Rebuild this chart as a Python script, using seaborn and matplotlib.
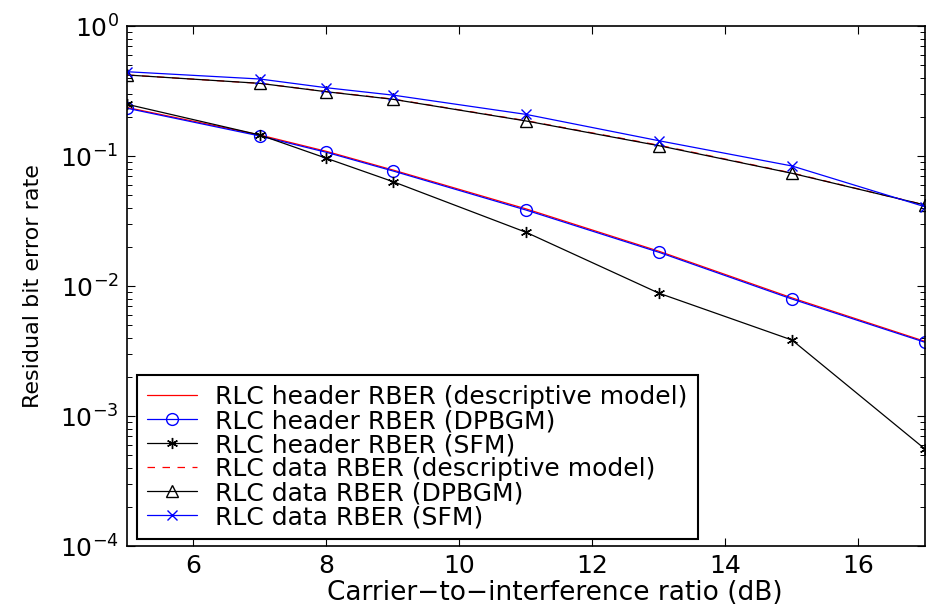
import numpy as np
import pandas as pd
import matplotlib
matplotlib.use("Agg")
import matplotlib.pyplot as plt
import seaborn as sns
from matplotlib.ticker import LogLocator, FixedLocator

# ---- data ----
cir = [5, 7, 8, 9, 11, 13, 15, 17]
hdr_desc = [0.236, 0.145, 0.1085, 0.078, 0.0392, 0.0185, 0.0081, 0.00375]
hdr_dpbgm = [0.233, 0.1425, 0.1067, 0.0767, 0.0384, 0.01816, 0.00794, 0.00369]
hdr_sfm = [0.25, 0.145, 0.096, 0.0635, 0.0259, 0.0088, 0.00384, 0.000557]
data_desc = [0.42, 0.362, 0.313, 0.274, 0.187, 0.121, 0.074, 0.042]
data_dpbgm = [0.42, 0.362, 0.312, 0.273, 0.186, 0.12, 0.0736, 0.042]
data_sfm = [0.445, 0.391, 0.335, 0.294, 0.209, 0.131, 0.0838, 0.0407]

labels = ["RLC header RBER (descriptive model)",
          "RLC header RBER (DPBGM)",
          "RLC header RBER (SFM)",
          "RLC data RBER (descriptive model)",
          "RLC data RBER (DPBGM)",
          "RLC data RBER (SFM)"]
series = [hdr_desc, hdr_dpbgm, hdr_sfm, data_desc, data_dpbgm, data_sfm]

sns.set_theme(style="ticks")
plt.rcParams["font.family"] = ["DejaVu Sans"]
plt.rcParams["mathtext.fontset"] = "dejavusans"
plt.rcParams["mathtext.default"] = "regular"
plt.rcParams["text.color"] = "black"
plt.rcParams["axes.labelcolor"] = "black"

fig = plt.figure(figsize=(9.28, 6.08), dpi=100)
ax = fig.add_axes([127/928, 1-546/608, (925-127)/928, (546-26)/608])

styles = [
    dict(color="red", linestyle="-", marker=None),
    dict(color="blue", linestyle="-", marker="o", markerfacecolor="none", markeredgecolor="blue", markersize=8.5),
    dict(color="black", linestyle="-", marker=(6, 2, 0), markersize=8, markeredgecolor="black"),
    dict(color="red", linestyle=(0, (6, 6)), marker=None),
    dict(color="black", linestyle="-", marker="^", markerfacecolor="none", markeredgecolor="black", markersize=9),
    dict(color="blue", linestyle="-", marker="x", markeredgecolor="blue", markersize=7),
]

handles = []
for lab, vals, st in zip(labels, series, styles):
    df = pd.DataFrame({"x": cir, "y": vals})
    st = dict(st)
    ls = st.pop("linestyle")
    sns.lineplot(data=df, x="x", y="y", ax=ax, linewidth=0.9, estimator=None,
                 sort=False, legend=False, **st)
    ln = ax.lines[-1]
    ln.set_linestyle(ls)
    ln.set_label(lab)
    ln.set_markeredgewidth(1.0)
    handles.append(ln)

ax.set_yscale("log")
ax.set_xlim(5, 17)
ax.set_ylim(1e-4, 1)
ax.xaxis.set_major_locator(FixedLocator([6, 8, 10, 12, 14, 16]))
ax.yaxis.set_major_locator(LogLocator(base=10, numticks=10))
ax.yaxis.set_minor_locator(LogLocator(base=10, subs=np.arange(2, 10), numticks=20))

ax.tick_params(axis="both", which="both", direction="in", top=True, right=True,
               labelsize=18, color="black", labelcolor="black")
ax.tick_params(axis="both", which="major", length=6, width=0.8, pad=6)
ax.tick_params(axis="y", which="minor", length=3.5, width=0.7)
for sp in ax.spines.values():
    sp.set_visible(True)
    sp.set_color("black")
    sp.set_linewidth(1.2)

ax.set_xlabel("Carrier\u2212to\u2212interference ratio (dB)", fontsize=19, labelpad=-1, color="black")
ax.xaxis.set_label_coords((555 - 127) / 798, -0.066)
ax.set_ylabel("Residual bit error rate", fontsize=16, labelpad=12, color="black")

leg = ax.legend(handles=handles, loc="lower left", bbox_to_anchor=(0.012, 0.013),
                fontsize=18, frameon=True, fancybox=False, shadow=False,
                numpoints=1, handlelength=2.0, handletextpad=0.75, labelspacing=0.0,
                borderpad=0.4, borderaxespad=0, labelcolor="black")
leg.get_frame().set_edgecolor("black")
leg.get_frame().set_linewidth(1.5)
leg.get_frame().set_alpha(1)

fig.savefig("out.png", dpi=100)
